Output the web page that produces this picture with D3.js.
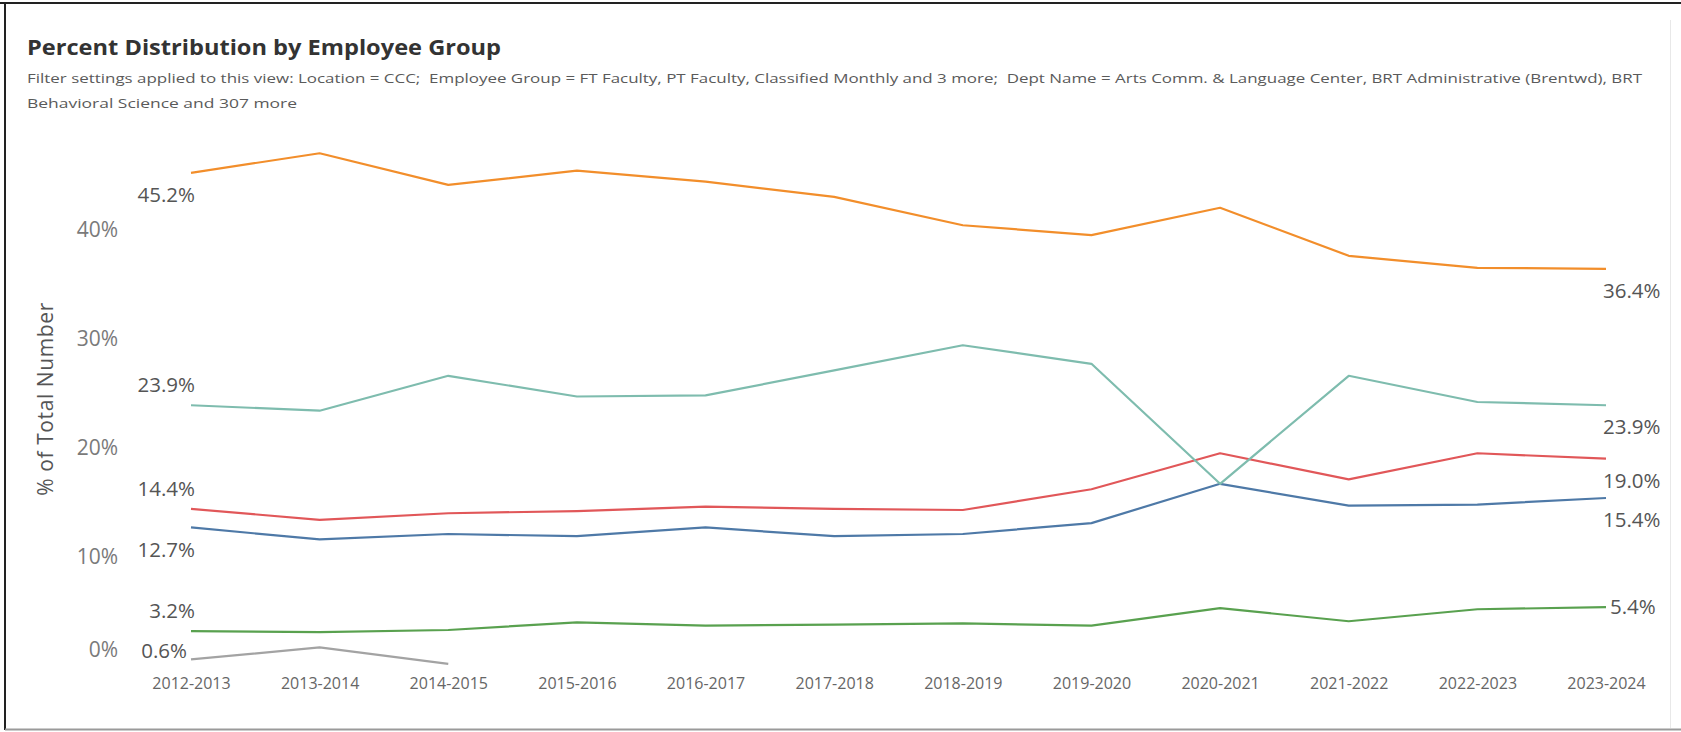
<!DOCTYPE html>
<html>
<head>
<meta charset="utf-8">
<script src="https://cdn.jsdelivr.net/npm/d3@7"></script>
<style>
  html, body { margin: 0; padding: 0; background: #ffffff; }
  svg { display: block; }
  text { font-family: "Open Sans", "Noto Sans", sans-serif; white-space: pre; }
</style>
</head>
<body>
<svg id="chart" width="1681" height="732"></svg>
<script>
// ---------- DATA ----------
const years = ["2012-2013","2013-2014","2014-2015","2015-2016","2016-2017","2017-2018",
               "2018-2019","2019-2020","2020-2021","2021-2022","2022-2023","2023-2024"];
const seriesOrange = [45.2, 47.0, 44.1, 45.4, 44.4, 43.0, 40.4, 39.5, 42.0, 37.6, 36.5, 36.4];
const seriesTeal   = [23.9, 23.4, 26.6, 24.7, 24.8, 27.1, 29.4, 27.7, 16.7, 26.6, 24.2, 23.9];
const seriesRed    = [14.4, 13.4, 14.0, 14.2, 14.6, 14.4, 14.3, 16.2, 19.5, 17.1, 19.5, 19.0];
const seriesBlue   = [12.7, 11.6, 12.1, 11.9, 12.7, 11.9, 12.1, 13.1, 16.7, 14.7, 14.8, 15.4];
const seriesGreen  = [3.2, 3.1, 3.3, 4.0, 3.7, 3.8, 3.9, 3.7, 5.3, 4.1, 5.2, 5.4];
const seriesGray   = [0.6, 1.7, 0.2];
const yTicks = [0, 10, 20, 30, 40];

const titleText = "Percent Distribution by Employee Group";
const subtitleLine1 = "Filter settings applied to this view: Location = CCC;  Employee Group = FT Faculty, PT Faculty, Classified Monthly and 3 more;  Dept Name = Arts Comm. & Language Center, BRT Administrative (Brentwd), BRT";
const subtitleLine2 = "Behavioral Science and 307 more";
const yAxisTitle = "% of Total Number";

// ---------- STYLE / LAYOUT ----------
const series = [
  { values: seriesGray,   color: "#a3a3a3", startPos: "left",  endPos: null },
  { values: seriesGreen,  color: "#59a14f", startPos: "above", endPos: "right" },
  { values: seriesBlue,   color: "#4e79a7", startPos: "below", endPos: "below" },
  { values: seriesRed,    color: "#e15759", startPos: "above", endPos: "below" },
  { values: seriesTeal,   color: "#7ebcae", startPos: "above", endPos: "below" },
  { values: seriesOrange, color: "#f28e2b", startPos: "below", endPos: "below" }
];

const svg = d3.select("#chart");
const W = 1681, H = 732;

// frame
svg.append("rect").attr("x", 0).attr("y", 0).attr("width", W).attr("height", H).attr("fill", "#fff");
svg.append("line").attr("x1", 0).attr("x2", W).attr("y1", 3).attr("y2", 3).attr("stroke", "#222").attr("stroke-width", 2);
svg.append("line").attr("x1", 5).attr("x2", 5).attr("y1", 3).attr("y2", 730).attr("stroke", "#222").attr("stroke-width", 2);
svg.append("line").attr("x1", 5).attr("x2", W).attr("y1", 729.5).attr("y2", 729.5).attr("stroke", "#9a9a9a").attr("stroke-width", 2);
svg.append("line").attr("x1", 1670.5).attr("x2", 1670.5).attr("y1", 20).attr("y2", 728).attr("stroke", "#e8e8e8").attr("stroke-width", 1);

// title
function fitWidth(sel, target) {
  const w = sel.node().getComputedTextLength();
  if (w > 0) sel.attr("textLength", target).attr("lengthAdjust", "spacingAndGlyphs");
}
const title = svg.append("text").attr("x", 27).attr("y", 55)
  .attr("font-size", 21).attr("font-weight", 700).attr("fill", "#333")
  .text(titleText);
fitWidth(title, 474);

const sub1 = svg.append("text").attr("x", 27).attr("y", 83)
  .attr("font-size", 13).attr("fill", "#5a5a5a").text(subtitleLine1);
fitWidth(sub1, 1615);
const sub2 = svg.append("text").attr("x", 27).attr("y", 108)
  .attr("font-size", 13).attr("fill", "#5a5a5a").text(subtitleLine2);
fitWidth(sub2, 270);

// scales
const x = d3.scalePoint().domain(years).range([191, 1606]);
const y = d3.scaleLinear().domain([0, 50]).range([666, 120.5]);

// y axis
const yAxis = d3.axisLeft(y).tickValues(yTicks).tickFormat(d => d + "%").tickSize(0).tickPadding(0);
const yG = svg.append("g").attr("transform", "translate(118,0)").call(yAxis);
yG.select(".domain").remove();
yG.selectAll("text").attr("font-size", 21).attr("fill", "#7a7a7a")
  .attr("font-family", "\"Open Sans\", sans-serif")
  .attr("dy", d => d === 0 ? "-0.45em" : "0.32em");

// y axis title
svg.append("text")
  .attr("transform", "translate(53,399) rotate(-90)")
  .attr("text-anchor", "middle").attr("font-size", 21).attr("fill", "#555")
  .attr("letter-spacing", 0.6)
  .text(yAxisTitle);

// x axis
const xAxis = d3.axisBottom(x).tickSize(0).tickPadding(0);
const xG = svg.append("g").attr("transform", "translate(0,683)").call(xAxis);
xG.select(".domain").remove();
xG.selectAll("text").attr("font-size", 16).attr("fill", "#666")
  .attr("font-family", "\"Open Sans\", sans-serif").attr("dy", "0.35em");

// lines
const line = d3.line().x((d, i) => x(years[i])).y(d => y(d));
svg.append("g").selectAll("path").data(series).join("path")
  .attr("d", s => line(s.values))
  .attr("fill", "none").attr("stroke", s => s.color)
  .attr("stroke-width", 2.2).attr("stroke-linejoin", "round");

// labels
const fmt = v => d3.format(".1f")(v) + "%";
const lbl = svg.append("g").attr("font-size", 20.5).attr("fill", "#555");
series.forEach(s => {
  const n = s.values.length;
  const x0 = x(years[0]), y0 = y(s.values[0]);
  const t = lbl.append("text").text(fmt(s.values[0])).attr("dy", "0.35em");
  if (s.startPos === "left") t.attr("x", x0 - 4).attr("y", y0 - 9).attr("text-anchor", "end");
  else if (s.startPos === "above") t.attr("x", x0 + 4).attr("y", y0 - 20).attr("text-anchor", "end");
  else t.attr("x", x0 + 4).attr("y", y0 + 22).attr("text-anchor", "end");
  if (s.endPos) {
    const x1 = x(years[n - 1]), y1 = y(s.values[n - 1]);
    const e = lbl.append("text").text(fmt(s.values[n - 1])).attr("dy", "0.35em");
    if (s.endPos === "right") e.attr("x", x1 + 4).attr("y", y1).attr("text-anchor", "start");
    else e.attr("x", x1 - 3).attr("y", y1 + 22).attr("text-anchor", "start");
  }
});
</script>
</body>
</html>
